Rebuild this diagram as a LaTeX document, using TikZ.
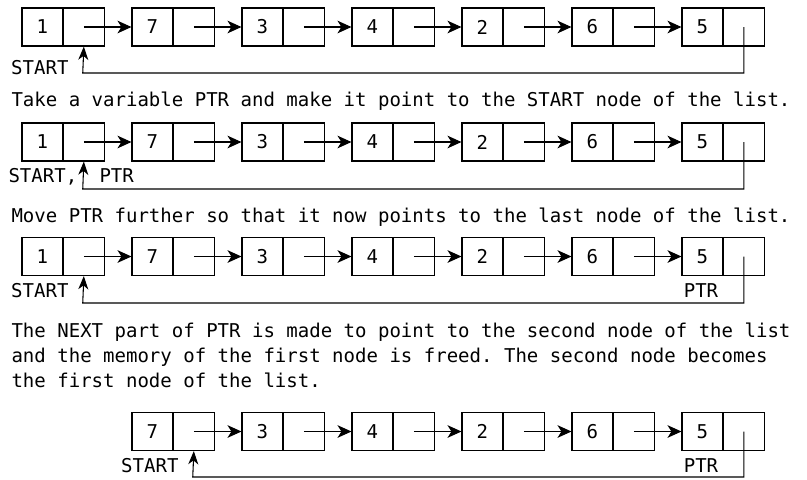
\documentclass[tikz,border=0pt]{standalone}
\usepackage{fontspec}
\setmonofont{DejaVu Sans Mono}
\usepackage{tikz}
\usetikzlibrary{arrows.meta, positioning}

\tikzset{
	cell/.style={draw, minimum width=30.4pt, minimum height=28.5pt, inner sep=0pt},
	nxt/.style={-{Stealth[length=10.5pt, width=9.5pt, inset=3pt]}},
	back/.style={-{Stealth[length=10pt, width=7.5pt, inset=3pt]}},
	lbl/.style={inner sep=0pt}
}

\begin{document}
\begin{tikzpicture}[x=0.75pt, y=-0.75pt, line width=0.8pt,
		font=\ttfamily\fontsize{14.27pt}{18pt}\selectfont]
	\useasboundingbox (0,0) rectangle (807,479);

	\foreach \v [count=\i] in {1,7,3,4,2,6,5} {
		\node[cell] (a\i) at ({110*\i-67.75}, 27) {\v};
		\node[cell, right=0pt of a\i] (ap\i) {};
	}
	\foreach \i [count=\j from 2] in {1,...,6}
		\draw[nxt] (ap\i.center) -- (a\j.west);
	\coordinate (ab) at (82.75, 73);
	\draw[back] (ap7.center) |- (ab) -- (ap1.south);
	\node[lbl, anchor=base east] (as) at (69,74) {START};

	\node[lbl, anchor=base west] (t1) at (11,106) {Take a variable PTR and make it point to the START node of the list.};

	\foreach \v [count=\i] in {1,7,3,4,2,6,5} {
		\node[cell] (b\i) at ({110*\i-67.75}, 142) {\v};
		\node[cell, right=0pt of b\i] (bp\i) {};
	}
	\foreach \i [count=\j from 2] in {1,...,6}
		\draw[nxt] (bp\i.center) -- (b\j.west);
	\coordinate (bb) at (82.75, 189);
	\draw[back] (bp7.center) |- (bb) -- (bp1.south);
	\node[lbl, anchor=base west] (bs) at (8,182) {START,};
	\node[lbl, anchor=base west] (bq) at (99,182) {PTR};

	\node[lbl, anchor=base west] (t2) at (11,222) {Move PTR further so that it now points to the last node of the list.};

	\foreach \v [count=\i] in {1,7,3,4,2,6,5} {
		\node[cell] (c\i) at ({110*\i-67.75}, 256.5) {\v};
		\node[cell, right=0pt of c\i] (cp\i) {};
	}
	\foreach \i [count=\j from 2] in {1,...,6}
		\draw[nxt] (cp\i.center) -- (c\j.west);
	\coordinate (cb) at (82.75, 303);
	\draw[back] (cp7.center) |- (cb) -- (cp1.south);
	\node[lbl, anchor=base east] (cs) at (69,297) {START};
	\node[lbl, anchor=base] (cq) at (701,297) {PTR};

	\node[lbl, anchor=base west] (t3) at (11,337) {The NEXT part of PTR is made to point to the second node of the list};
	\node[lbl, anchor=base west] (t4) at (11,362) {and the memory of the first node is freed. The second node becomes};
	\node[lbl, anchor=base west] (t5) at (11,387) {the first node of the list.};

	\foreach \v [count=\i] in {7,3,4,2,6,5} {
		\node[cell] (d\i) at ({110*\i+42.25}, 431.5) {\v};
		\node[cell, right=0pt of d\i] (dp\i) {};
	}
	\foreach \i [count=\j from 2] in {1,...,5}
		\draw[nxt] (dp\i.center) -- (d\j.west);
	\coordinate (db) at (192.75, 477);
	\draw[back] (dp6.center) |- (db) -- (dp1.south);
	\node[lbl, anchor=base east] (ds) at (179,472) {START};
	\node[lbl, anchor=base] (dq) at (701,472) {PTR};
\end{tikzpicture}
\end{document}
